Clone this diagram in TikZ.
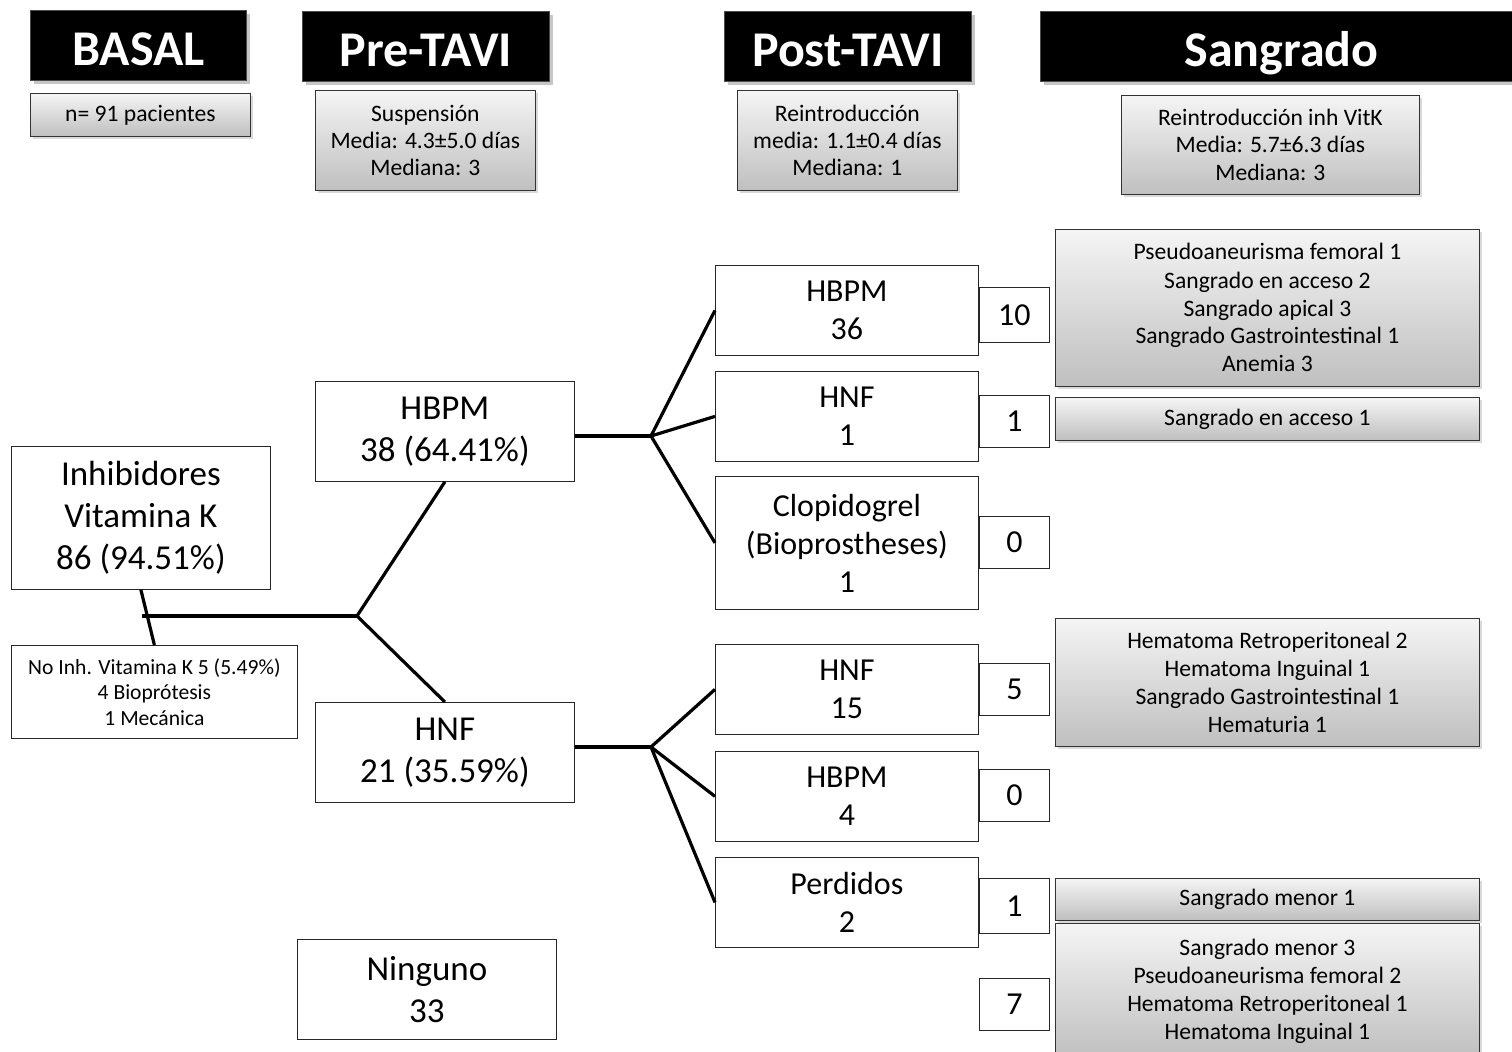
\documentclass[tikz,border=0pt]{standalone}
\usepackage{fontspec}
\setmainfont{Carlito}
\usetikzlibrary{shadows}

\tikzset{
    sz/.style n args={2}{minimum width=#1*0.5pt, minimum height=#2*0.5pt}
}

\begin{document}
\begin{tikzpicture}[
    x=0.5pt, y=-0.5pt,
    every node/.style={align=center, inner sep=0pt, anchor=north west},
    head/.style={rectangle, draw=black!70, fill=black, text=white, font=\bfseries\fontsize{25pt}{28pt}\selectfont, text height=21pt, text depth=1pt, drop shadow={shadow xshift=2pt, shadow yshift=-2pt, opacity=.45}},
    info/.style={rectangle, draw=black!80, top color=black!4, bottom color=black!25, font=\fontsize{11.8pt}{13.6pt}\selectfont, drop shadow={shadow xshift=1.5pt, shadow yshift=-1.5pt, opacity=.3}},
    res/.style={info, font=\fontsize{11.8pt}{14pt}\selectfont},
    box/.style={rectangle, draw=black!85, fill=white, font=\fontsize{17.5pt}{21pt}\selectfont},
    sub/.style={box, font=\fontsize{16pt}{19pt}\selectfont},
    num/.style={box, font=\fontsize{16pt}{19pt}\selectfont},
    link/.style={line width=1.6pt, black}
]
\useasboundingbox (0,0) rectangle (1512,1052);

% CABECERAS
\node[head, sz={216}{70}] (basal) at (30,10) {BASAL};
\node[head, sz={247}{70}] (pre) at (302,11) {Pre-TAVI};
\node[head, sz={247}{70}] (post) at (724,11) {Post-TAVI};
\node[head, sz={482}{70}] (sang) at (1040,11) {Sangrado};

\node[info, sz={220}{43}] (npac) at (30,93) {n= 91 pacientes};
\node[info, sz={220}{100}] (susp) at (315,90) {Suspensión\\Media: 4.3±5.0 días\\Mediana: 3};
\node[info, sz={220}{100}] (reint) at (737,90) {Reintroducción\\media: 1.1±0.4 días\\Mediana: 1};
\node[info, sz={298}{99}] (reintk) at (1121,95) {Reintroducción inh VitK\\Media: 5.7±6.3 días\\Mediana: 3};

% ARBOL
\node[box, sz={259}{143}] (avk) at (11,446) {Inhibidores\\Vitamina K\\86 (94.51\%)};
\node[box, sz={286}{93}, font=\fontsize{10.8pt}{12.75pt}\selectfont] (noavk) at (11,645) {No Inh. Vitamina K 5 (5.49\%)\\4 Bioprótesis\\1 Mecánica};
\node[box, sz={259}{100}] (hbpm) at (315,381) {HBPM\\38 (64.41\%)};
\node[box, sz={259}{100}] (hnf) at (315,702) {HNF\\21 (35.59\%)};
\node[box, sz={259}{100}] (ning) at (297,939) {Ninguno\\33};

\node[sub, sz={263}{90}] (hbpmA) at (715,265) {HBPM\\36};
\node[sub, sz={263}{90}] (hnfA) at (715,371) {HNF\\1};
\node[sub, sz={263}{133}] (clop) at (715,476) {Clopidogrel\\(Bioprostheses)\\1};
\node[sub, sz={263}{90}] (hnfB) at (715,644) {HNF\\15};
\node[sub, sz={263}{90}] (hbpmB) at (715,751) {HBPM\\4};
\node[sub, sz={263}{90}] (perd) at (715,857) {Perdidos\\2};

% NUMEROS
\node[num, sz={70}{55}] (nA) at (979,287) {10};
\node[num, sz={70}{52}] (nB) at (979,395) {1};
\node[num, sz={70}{52}] (nC) at (979,516) {0};
\node[num, sz={70}{52}] (nD) at (979,663) {5};
\node[num, sz={70}{52}] (nE) at (979,769) {0};
\node[num, sz={70}{55}] (nF) at (979,878) {1};
\node[num, sz={70}{52}] (nG) at (979,978) {7};

% SANGRADOS
\node[res, sz={424}{157}] (rA) at (1055,229) {Pseudoaneurisma femoral 1\\Sangrado en acceso 2\\Sangrado apical 3\\Sangrado Gastrointestinal 1\\Anemia 3};
\node[res, sz={424}{43}] (rB) at (1055,397) {Sangrado en acceso 1};
\node[res, sz={424}{128}] (rC) at (1055,618) {Hematoma Retroperitoneal 2\\Hematoma Inguinal 1\\Sangrado Gastrointestinal 1\\Hematuria 1};
\node[res, sz={424}{42}] (rD) at (1055,878) {Sangrado menor 1};
\node[res, sz={424}{135}] (rE) at (1055,923) {Sangrado menor 3\\Pseudoaneurisma femoral 2\\Hematoma Retroperitoneal 1\\Hematoma Inguinal 1};

% CONEXIONES
\coordinate (jl) at (142,616);
\coordinate (j0) at (357,616);
\coordinate (j1) at (651,436);
\coordinate (j2) at (651,747);

\draw[link] (avk.south) -- (noavk.north);
\draw[link] (jl) -- (j0);
\draw[link] (j0) -- (hbpm.south);
\draw[link] (j0) -- (hnf.north);
\draw[link] (j1 -| hbpm.east) -- (j1);
\draw[link] (j1) -- (hbpmA.west);
\draw[link] (j1) -- (hnfA.west);
\draw[link] (j1) -- (clop.west);
\draw[link] (j2 -| hnf.east) -- (j2);
\draw[link] (j2) -- (hnfB.west);
\draw[link] (j2) -- (hbpmB.west);
\draw[link] (j2) -- (perd.west);

\end{tikzpicture}
\end{document}
